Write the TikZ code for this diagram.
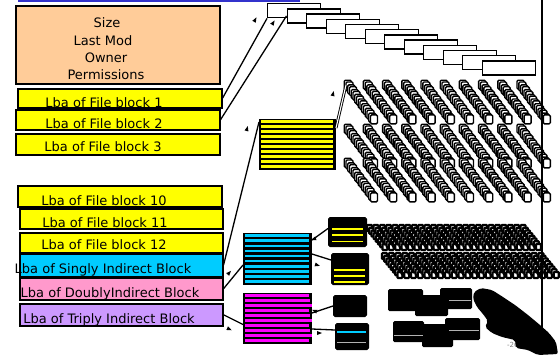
\documentclass[tikz,border=0pt]{standalone}
\usepackage{fontspec}
\setmainfont{DejaVu Sans}
\usetikzlibrary{calc}
\definecolor{peach}{HTML}{FFCC99}
\definecolor{yel}{HTML}{FFFF00}
\definecolor{cyn}{HTML}{00CCFF}
\definecolor{pnk}{HTML}{FF99CC}
\definecolor{lav}{HTML}{CC99FF}
\definecolor{mag}{HTML}{FF00FF}
\definecolor{blu}{HTML}{3333CC}
\newcommand\amark[3]{\fill[black,shift={(#1,#2)},rotate=#3] (3,0) -- (-2,2) -- (-2,-2) -- cycle;}
\tikzset{
  field/.style={draw=black, line width=1.5pt, rectangle, anchor=north west, inner sep=0pt},
  lbl/.style={font=\fontsize{13}{15}\selectfont, anchor=base, inner sep=0pt, text=black},
  chainbox/.style={draw=black, fill=white, line width=1.4pt, anchor=north west, inner sep=0pt, minimum width=53pt, minimum height=14pt},
  tinybox/.style={draw=black, fill=white, line width=1.4pt, rounded corners=1.2pt},
  densebox/.style={draw=black, fill=white, line width=2.2pt, rounded corners=0.8pt},
  blkbox/.style={fill=black, draw=black, line width=1pt, rounded corners=1.5pt, anchor=north west, inner sep=0pt},
  idx/.style={fill=black, draw=black, line width=1pt, anchor=north west, inner sep=0pt},
  conn/.style={draw=black, line width=1.3pt},
}
\begin{document}
\begin{tikzpicture}[x=1pt,y=-1pt]
\useasboundingbox (0,0) rectangle (560,354);
\clip (0,0) rectangle (560,354);
\fill[white] (0,0) rectangle (560,354);

% top blue line
\draw[blu, line width=1.5pt] (18,1) -- (300,1);

% inode fields
\node[field, fill=peach, minimum width=204pt, minimum height=78pt] (inode) at (15,5) {};
\node[lbl] (fsize) at (107,27) {Size};
\node[lbl] (fmod) at (103,45) {Last Mod};
\node[lbl] (fown) at (106,62) {Owner};
\node[lbl] (fperm) at (106,79) {Permissions};

\node[field, fill=yel, minimum width=204pt, minimum height=19pt] (b1) at (17,88) {};
\node[lbl] (t1) at (104,107) {Lba of File block 1};
\node[field, fill=yel, minimum width=204pt, minimum height=20pt] (b2) at (15,109) {};
\node[lbl] (t2) at (104,128) {Lba of File block 2};
\node[field, fill=yel, minimum width=204pt, minimum height=21pt] (b3) at (15,133) {};
\node[lbl] (t3) at (103,151) {Lba of File block 3};

\node[field, fill=yel, minimum width=204pt, minimum height=21pt] (b10) at (17,185) {};
\node[lbl] (t10) at (104,205) {Lba of File block 10};
\node[field, fill=yel, minimum width=203pt, minimum height=20pt] (b11) at (19,208) {};
\node[lbl] (t11) at (105,227) {Lba of File block 11};
\node[field, fill=yel, minimum width=203pt, minimum height=20pt] (b12) at (19,232) {};
\node[lbl] (t12) at (104,249) {Lba of File block 12};
\node[field, fill=cyn, minimum width=203pt, minimum height=23pt] (si) at (19,253) {};
\node[lbl] (tsi) at (103,273) {Lba of Singly Indirect Block};
\node[field, fill=pnk, minimum width=203pt, minimum height=22pt] (di) at (19,277) {};
\node[lbl] (tdi) at (110,297) {Lba of DoublyIndirect Block};
\node[field, fill=lav, minimum width=203pt, minimum height=22pt] (ti) at (19,303) {};
\node[lbl] (tti) at (109,323) {Lba of Triply Indirect Block};

% chain of direct data blocks
\foreach \i in {1,...,12}
  \node[chainbox] (c\i) at ({267+19.5*(\i-1)},{3+5.2*(\i-1)}) {};

% singly indirect block (yellow stripes)
\node[idx, minimum width=76pt, minimum height=50pt] (yb) at (259,119) {};
\foreach \k in {0,...,9}
  \fill[yel] (261,{119+5*\k+1.3}) rectangle (333,{119+5*\k+3.9});

% cyan (doubly) index block
\node[idx, minimum width=68pt, minimum height=51pt] (cb) at (243,233) {};
\foreach \k in {0,...,9}
  \fill[cyn] (245,{233+5.1*\k+1.3}) rectangle (309,{233+5.1*\k+3.9});

% magenta (triply) index block
\node[idx, minimum width=68pt, minimum height=50pt] (mb) at (243,293) {};
\foreach \k in {0,...,9}
  \fill[mag] (245,{293+5*\k+1.3}) rectangle ({309+mod(\k,3)*1.3},{293+5*\k+3.9});

% second level blocks
\node[blkbox, minimum width=38pt, minimum height=29pt] (ba) at (328,217) {};
\foreach \yy in {229,235,241.7} \fill[yel] (332,\yy-0.7) rectangle (363,\yy+0.7);
\node[blkbox, minimum width=37pt, minimum height=31pt] (bb) at (331,253) {};
\foreach \yy in {270,276,282} \fill[yel] (334,\yy-0.7) rectangle (365,\yy+0.7);
\node[blkbox, minimum width=33pt, minimum height=21pt] (bc) at (333,295) {};
\node[blkbox, minimum width=33pt, minimum height=26pt] (bd) at (335,323) {};
\fill[cyn] (337,331.3) rectangle (366,332.7);
\draw[gray!60, line width=0.5pt] (337,342) -- (366,342);

% grid of data blocks (singly indirect)
\coordinate (g) at (346,85);
\foreach \by in {82,126,160}
  \foreach \j in {0,...,9}
    \foreach \k in {0,...,7}
      {\draw[tinybox] ({346+19.2*\j+3.5*\k-1.8},{\by+4.7*\k-1.8}) rectangle ++(7,9);
       \draw[tinybox] ({346+19.2*\j+3.5*\k},{\by+4.7*\k}) rectangle ++(7,9);}

% dense data blocks (doubly indirect)
\foreach \j in {0,...,24}
  \foreach \k in {0,...,7}
    \draw[densebox] ({367+6.4*\j+2.2*\k},{225+2.7*\k}) rectangle ++(5,6);
\foreach \j in {0,...,23}
  \foreach \k in {0,...,7}
    \draw[densebox] ({382+6.8*\j+2.2*\k},{253+2.7*\k}) rectangle ++(5,6);

% triply indirect masses
\fill[black, rounded corners=1.5pt] (388,289) rectangle (423,311);
\fill[black, rounded corners=1.5pt] (415,295) rectangle (448,316);
\fill[black, rounded corners=1.5pt] (440,288) rectangle (472,309);
\draw[gray!60, line width=0.5pt] (449,300) -- (471,300);
\fill[black, rounded corners=1.5pt] (393,321) rectangle (424,342);
\fill[black, rounded corners=1.5pt] (422,324) rectangle (453,347);
\fill[black, rounded corners=1.5pt] (445,318) rectangle (480,340);
\draw[gray!60, line width=0.5pt] (394,335) -- (423,335);
\draw[gray!60, line width=0.5pt] (449,330) -- (479,330);
\node[font=\fontsize{7}{8}\selectfont, text=gray, anchor=base, inner sep=0pt] (pg) at (514,347) {-26-};
\fill[black, rounded corners=2pt] (474,292) -- (481,288) -- (492,290) -- (503,297) -- (515,305) -- (528,315) -- (540,325) -- (549,333) -- (556,342) -- (558,354) -- (538,355) -- (528,350) -- (516,348) -- (515,340) -- (502,337) -- (492,333) -- (485,327) -- (488,321) -- (483,314) -- (477,307) -- (473,299) -- cycle;

% connectors
\draw[conn] (b1.east) -- (c1.south west);
\draw[conn] (b2.east) -- (c2.west);
\draw[conn] (si.east) -- ([yshift=-3pt]yb.north west);
\draw[black, line width=0.9pt, double=white, double distance=1.1pt] ([yshift=-9pt]yb.north east) -- (g);
\draw[conn] (di.east) -- ([yshift=-6pt]cb.west);
\draw[conn] (ti.east) -- ([yshift=-6pt]mb.west);
\draw[conn] ([yshift=-7pt]cb.north east) -- ([yshift=3.5pt]ba.west);
\draw[conn] ([yshift=-21pt]cb.north east) -- ([yshift=9pt]bb.west);
\draw[conn] ([yshift=-20pt]mb.north east) -- (bc.west);
\draw[conn] ([yshift=-36pt]mb.north east) -- ([yshift=6.5pt]bd.west);

% detached arrow heads
\amark{255}{20}{62}
\amark{273}{23}{57}
\amark{247}{129}{75}
\amark{333}{94}{77}
\amark{229}{273}{48}
\amark{229}{329}{-25}
\amark{317}{265}{-17}
\amark{319}{333}{0}
\amark{314}{239}{200}
\amark{315}{311}{160}

% right margin line
\draw[black, line width=1.2pt] (542,0) -- (542,354);
\end{tikzpicture}
\end{document}
